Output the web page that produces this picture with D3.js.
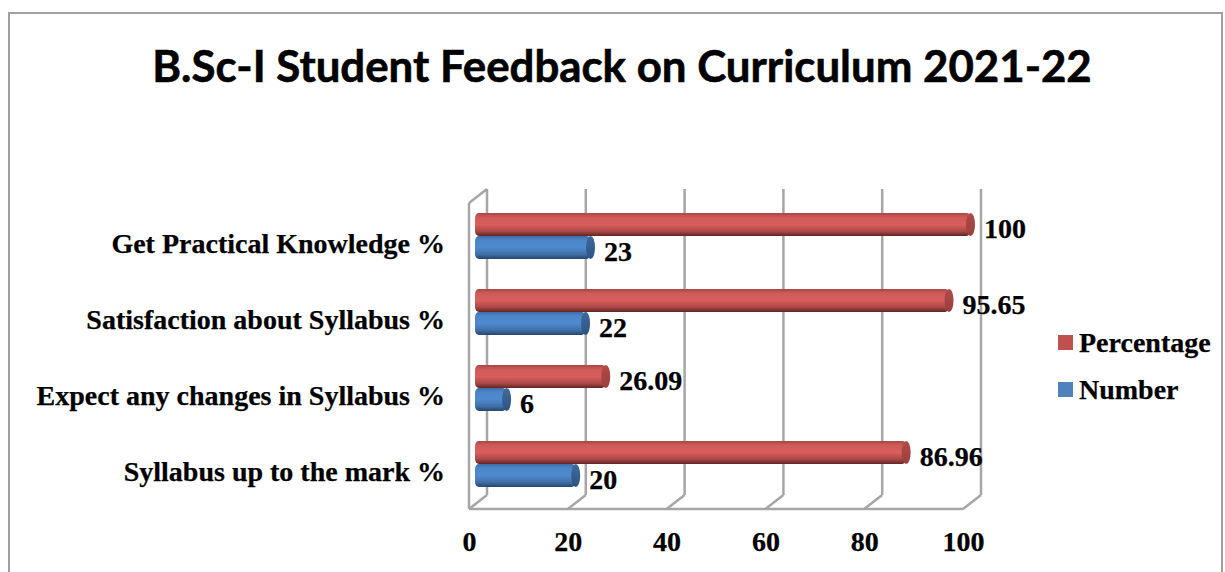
<!DOCTYPE html>
<html>
<head>
<meta charset="utf-8">
<script src="https://cdn.jsdelivr.net/npm/d3@7"></script>
<style>
	html, body { margin: 0; padding: 0; background: #fff; overflow: hidden; }
	svg { display: block; }
	text { font-family: "Liberation Serif", serif; font-weight: bold; fill: #000; stroke: #000; stroke-width: 0.25px; }
	.title { font-family: "Lato", sans-serif; stroke-width: 0.6px; }
</style>
</head>
<body>
<svg id="chart" width="1225" height="572"></svg>
<script>
"use strict";

var categories = ["Get Practical Knowledge %", "Satisfaction about Syllabus %", "Expect any changes in Syllabus %", "Syllabus up to the mark %"];
var percentage = [100, 95.65, 26.09, 86.96];
var number = [23, 22, 6, 20];
var ticks = [0, 20, 40, 60, 80, 100];
var seriesNames = ["Percentage", "Number"];
var titleText = "B.Sc-I Student Feedback on Curriculum 2021-22";

document.addEventListener("DOMContentLoaded", init)

function init() {
	var svg = d3.select("#chart");
	var defs = svg.append("defs");
	var gray = "#a6a6a6";

	// front and back planes of the fake 3d box, bars sit in between
	var xFront = d3.scaleLinear().domain([0, 100]).range([469, 963]);
	var xBack  = d3.scaleLinear().domain([0, 100]).range([487, 981]);
	var xBar   = d3.scaleLinear().domain([0, 100]).range([477, 970.5]);
	var xLabel = d3.scaleLinear().domain([0, 100]).range([490.5, 984]);
	var yBand  = d3.scaleBand().domain(categories).range([186, 490]);
	var barH = 23;

	function gradient(id, stops) {
		var g = defs.append("linearGradient")
			.attr("id", id)
			.attr("x1", 0).attr("y1", 0).attr("x2", 0).attr("y2", 1);
		g.selectAll("stop")
			.data(stops)
			.enter()
			.append("stop")
			.attr("offset", d=>d[0])
			.attr("stop-color", d=>d[1]);
	}
	gradient("red", [[0, "#a84543"], [0.18, "#cf5a58"], [0.5, "#d95f5d"], [0.8, "#a94846"], [1, "#5f2524"]]);
	gradient("blue", [[0, "#3d6ea8"], [0.18, "#4d86c8"], [0.5, "#4f8ad0"], [0.8, "#3f6fa6"], [1, "#24456e"]]);
	gradient("redCap", [[0, "#b04a48"], [1, "#9a3f3d"]]);
	gradient("blueCap", [[0, "#3f6a9c"], [1, "#2c5482"]]);

	// outer frame
	svg.append("rect")
		.attr("x", 9).attr("y", 13)
		.attr("width", 1213).attr("height", 575)
		.attr("fill", "#fff")
		.attr("stroke", "#a0a0a0")
		.attr("stroke-width", 2);

	svg.append("text")
		.attr("class", "title")
		.attr("x", 622)
		.attr("y", 82)
		.attr("text-anchor", "middle")
		.attr("font-size", 43.8)
		.text(titleText);

	// box
	var box = svg.append("g")
		.attr("fill", "none")
		.attr("stroke", gray)
		.attr("stroke-width", 2.5);

	box.selectAll(".grid")
		.data(ticks)
		.enter()
		.append("line")
		.attr("x1", d=>xBack(d)).attr("x2", d=>xBack(d))
		.attr("y1", 189).attr("y2", 495);
	box.selectAll(".floor")
		.data(ticks)
		.enter()
		.append("line")
		.attr("x1", d=>xFront(d)).attr("x2", d=>xBack(d))
		.attr("y1", 509).attr("y2", 495);
	box.append("line")
		.attr("x1", xFront(0)).attr("x2", xFront(100))
		.attr("y1", 509).attr("y2", 509);
	box.append("line")
		.attr("x1", xFront(0)).attr("x2", xFront(0))
		.attr("y1", 203).attr("y2", 509);
	box.append("line")
		.attr("x1", xFront(0)).attr("x2", xBack(0))
		.attr("y1", 203).attr("y2", 189);

	// bars
	var rows = [];
	categories.forEach((c, i)=>{
		rows.push({cat: c, v: number[i], label: number[i], fill: "blue", cap: "blueCap", off: 50});
		rows.push({cat: c, v: percentage[i], label: percentage[i], fill: "red", cap: "redCap", off: 27});
	});

	var bars = svg.append("g").selectAll("g")
		.data(rows)
		.enter()
		.append("g")
		.attr("transform", d=>"translate(0," + (yBand(d.cat) + d.off) + ")");

	bars.append("rect")
		.attr("x", xBar(0) - 2)
		.attr("y", 0)
		.attr("width", d=>xBar(d.v) - xBar(0) + 2)
		.attr("height", barH)
		.attr("rx", 4).attr("ry", 5)
		.attr("fill", d=>"url(#" + d.fill + ")");
	bars.append("ellipse")
		.attr("cx", d=>xBar(d.v))
		.attr("cy", barH / 2)
		.attr("rx", 4.5)
		.attr("ry", barH / 2)
		.attr("fill", d=>"url(#" + d.cap + ")");
	bars.append("text")
		.attr("x", d=>xLabel(d.v))
		.attr("y", barH / 2 + 13)
		.attr("font-size", 28)
		.text(d=>d.label);

	// category labels
	svg.append("g").selectAll("text")
		.data(categories)
		.enter()
		.append("text")
		.attr("x", 445)
		.attr("y", d=>yBand(d) + 67)
		.attr("text-anchor", "end")
		.attr("font-size", 28)
		.text(d=>d);

	// x axis labels
	var axis = d3.axisBottom(xFront).tickValues(ticks).tickSize(0).tickPadding(0);
	var gAxis = svg.append("g")
		.attr("transform", "translate(0,531)")
		.call(axis);
	gAxis.select(".domain").remove();
	gAxis.selectAll("text")
		.attr("font-size", 28)
		.attr("font-family", null)
		.style("font-family", "'Liberation Serif', serif");

	// legend
	var legend = svg.append("g").selectAll("g")
		.data(seriesNames)
		.enter()
		.append("g")
		.attr("transform", (d,i)=>"translate(1058," + (335 + i * 47) + ")");
	legend.append("rect")
		.attr("width", 15).attr("height", 15)
		.attr("fill", (d,i)=>i == 0 ? "#c0504d" : "#4f81bd");
	legend.append("text")
		.attr("x", 21).attr("y", 17)
		.attr("font-size", 28)
		.text(d=>d);
}
</script>
</body>
</html>
